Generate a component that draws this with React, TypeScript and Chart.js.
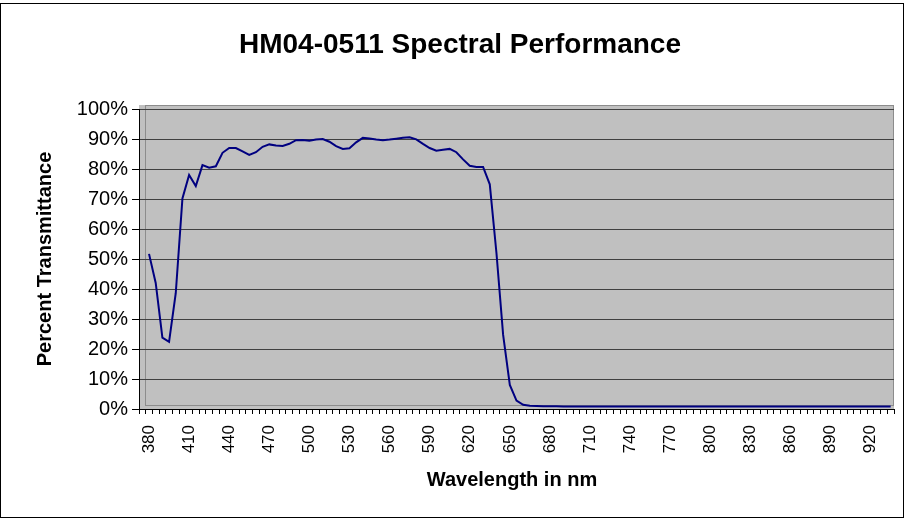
import React, { useEffect, useRef } from 'react';
import { Chart, registerables } from 'chart.js';

Chart.register(...registerables);

const chartTitle = 'HM04-0511 Spectral Performance';
const xAxisTitle = 'Wavelength in nm';
const yAxisTitle = 'Percent Transmittance';

const wavelengths = [
  375, 380, 385, 390, 395, 400, 405, 410, 415, 420, 425, 430, 435, 440, 445, 450,
  455, 460, 465, 470, 475, 480, 485, 490, 495, 500, 505, 510, 515, 520, 525, 530,
  535, 540, 545, 550, 555, 560, 565, 570, 575, 580, 585, 590, 595, 600, 605, 610,
  615, 620, 625, 630, 635, 640, 645, 650, 655, 660, 665, 670, 675, 680, 685, 690,
  695, 700, 705, 710, 715, 720, 725, 730, 735, 740, 745, 750, 755, 760, 765, 770,
  775, 780, 785, 790, 795, 800, 805, 810, 815, 820, 825, 830, 835, 840, 845, 850,
  855, 860, 865, 870, 875, 880, 885, 890, 895, 900, 905, 910, 915, 920, 925, 930,
  935,
];

const transmittance = [
  null,
  51.7, 42.0, 23.8, 22.4, 38.6,
  70.2, 78.0, 74.3, 81.3, 80.4, 80.9, 85.4, 87.0, 87.0, 85.9,
  84.7, 85.6, 87.4, 88.2, 87.8, 87.7, 88.4, 89.6, 89.7, 89.4,
  89.8, 90.0, 89.1, 87.6, 86.7, 86.9, 88.9, 90.4, 90.2, 89.8,
  89.6, 89.8, 90.1, 90.4, 90.6, 89.9, 88.4, 87.0, 86.1, 86.4,
  86.7, 85.6, 83.2, 81.1, 80.7, 80.7, 74.9, 52.0, 24.7, 8.0,
  2.8, 1.4, 1.1, 1.0, 0.9, 0.9, 0.9, 0.8, 0.8, 0.8,
  0.8, 0.8, 0.8, 0.8, 0.8, 0.8, 0.8, 0.8, 0.8, 0.8,
  0.8, 0.8, 0.8, 0.8, 0.8, 0.8, 0.8, 0.8, 0.8, 0.8,
  0.8, 0.8, 0.8, 0.8, 0.8, 0.8, 0.8, 0.8, 0.8, 0.8,
  0.8, 0.8, 0.8, 0.8, 0.8, 0.8, 0.8, 0.8, 0.8, 0.8,
  0.8, 0.8, 0.8, 0.8, 0.8, 0.8, 0.8,
];

const xTickLabels = [380, 410, 440, 470, 500, 530, 560, 590, 620, 650, 680, 710, 740, 770, 800, 830, 860, 890, 920];
const yMin = 0;
const yMax = 100;
const yStep = 10;

const FONT = '"Liberation Sans", Arial, sans-serif';

const framePlugin = {
  id: 'excelFrame',
  beforeDraw(chart: any) {
    const { ctx, chartArea: a, width, height } = chart;
    ctx.save();
    ctx.fillStyle = '#ffffff';
    ctx.fillRect(0, 0, width, height);
    ctx.strokeStyle = '#000000';
    ctx.lineWidth = 1;
    ctx.strokeRect(0.5, 3.5, width - 2, height - 5);
    ctx.fillStyle = '#c0c0c0';
    ctx.fillRect(a.left, a.top - 4, a.right - a.left, a.bottom - a.top + 4);
    ctx.strokeStyle = '#8c8c8c';
    ctx.strokeRect(a.left + 6.5, a.top - 3.5, a.right - a.left - 7, a.bottom - a.top);
    ctx.restore();
  },
  afterDraw(chart: any) {
    const { ctx, chartArea: a } = chart;
    ctx.save();
    ctx.fillStyle = '#000000';
    ctx.textAlign = 'center';
    ctx.textBaseline = 'middle';
    ctx.font = `bold 28px ${FONT}`;
    ctx.fillText(chartTitle, 460, 45);
    ctx.font = `bold 20px ${FONT}`;
    ctx.fillText(xAxisTitle, 512, 480);
    ctx.translate(45, (a.top + a.bottom) / 2);
    ctx.rotate(-Math.PI / 2);
    ctx.fillText(yAxisTitle, 0, 0);
    ctx.restore();
  },
};

export default function App() {
  const ref = useRef<HTMLCanvasElement | null>(null);

  useEffect(() => {
    if (!ref.current) return;
    const chart = new Chart(ref.current, {
      type: 'line',
      data: {
        labels: wavelengths,
        datasets: [
          {
            data: transmittance,
            borderColor: '#000080',
            borderWidth: 2,
            pointRadius: 0,
            tension: 0,
            fill: false,
          },
        ],
      },
      options: {
        animation: false,
        responsive: false,
        devicePixelRatio: 1,
        layout: { padding: { top: 109, right: 11, left: 0, bottom: 0 } },
        plugins: {
          legend: { display: false },
          title: { display: false },
          tooltip: { enabled: false },
        },
        scales: {
          x: {
            type: 'category',
            offset: true,
            afterFit: (s: any) => {
              s.height = 110;
              s.paddingLeft = 0;
              s.paddingRight = 0;
            },
            grid: {
              display: true,
              offset: true,
              drawOnChartArea: false,
              drawTicks: true,
              tickLength: 5,
              tickColor: '#000000',
              color: '#000000',
            },
            border: { display: true, color: '#000000', width: 1 },
            ticks: {
              autoSkip: false,
              maxRotation: 90,
              minRotation: 90,
              padding: 11,
              color: '#000000',
              font: { family: FONT, size: 17 },
              callback: (_v: any, i: number) => {
                const w = wavelengths[i];
                return xTickLabels.includes(w) ? String(w) : '';
              },
            },
          },
          y: {
            min: yMin,
            max: yMax,
            afterFit: (s: any) => {
              s.width = 139;
            },
            grid: {
              color: '#404040',
              lineWidth: 1,
              drawTicks: true,
              tickLength: 7,
              tickColor: '#000000',
            },
            border: { display: true, color: '#000000', width: 1 },
            ticks: {
              stepSize: yStep,
              padding: 4,
              color: '#000000',
              font: { family: FONT, size: 20 },
              callback: (v: any) => `${v}%`,
            },
          },
        },
      },
      plugins: [framePlugin],
    });
    return () => chart.destroy();
  }, []);

  return (
    <div style={{ position: 'absolute', left: 0, top: 0, width: 905, height: 519 }}>
      <canvas ref={ref} width={905} height={519} />
    </div>
  );
}
